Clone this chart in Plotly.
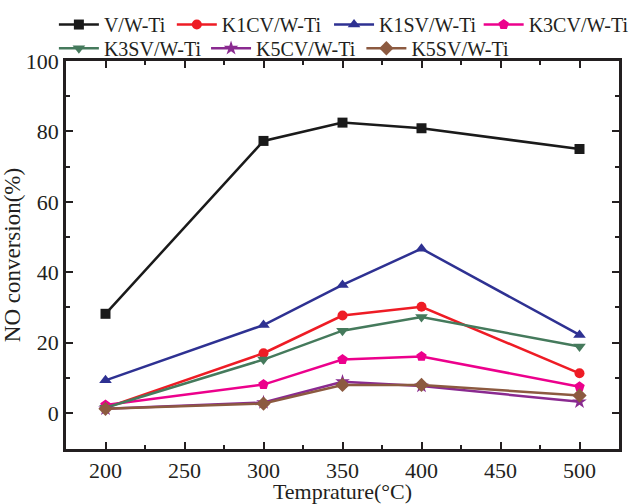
import plotly.graph_objects as go

temps = [200, 300, 350, 400, 500]
names = ["V/W-Ti", "K1CV/W-Ti", "K1SV/W-Ti", "K3CV/W-Ti", "K3SV/W-Ti", "K5CV/W-Ti", "K5SV/W-Ti"]
v_wti = [28.2, 77.3, 82.5, 80.9, 75.0]
k1cv = [1.5, 17.0, 27.7, 30.2, 11.3]
k1sv = [9.3, 25.0, 36.4, 46.7, 22.2]
k3cv = [2.3, 8.1, 15.2, 16.1, 7.5]
k3sv = [1.5, 15.2, 23.4, 27.3, 18.9]
k5cv = [1.2, 3.0, 8.9, 7.7, 3.2]
k5sv = [1.2, 2.7, 8.0, 8.0, 5.0]
series = [v_wti, k1cv, k1sv, k3cv, k3sv, k5cv, k5sv]
colors = ["#1a1a1a", "#ee1c25", "#2e3192", "#ec008c", "#457a5c", "#8a2a90", "#8c5a40"]
symbols = ["square", "circle", "triangle-up", "pentagon", "triangle-down", "star", "diamond"]
sizes = [10, 10, 11, 11, 11, 11, 11]
# legend entry placement (container fractions): one legend per entry
legend_x = [0.085, 0.271, 0.519, 0.755, 0.085, 0.325, 0.570]
legend_y = [0.99, 0.99, 0.99, 0.99, 0.943, 0.943, 0.943]

fig = go.Figure()
layout_legends = {}
for i, (n, s, c, m, sz) in enumerate(zip(names, series, colors, symbols, sizes)):
    lg = "legend" if i == 0 else f"legend{i + 1}"
    fig.add_trace(go.Scatter(x=temps, y=s, name=n, mode="lines+markers",
                             line=dict(color=c, width=2.5),
                             marker=dict(symbol=m, size=sz, color=c),
                             legend=lg))
    layout_legends[lg] = dict(orientation="h", xref="container", x=legend_x[i], xanchor="left",
                              yref="container", y=legend_y[i], yanchor="top",
                              font=dict(family="Liberation Serif", size=20, color="#231f20"),
                              itemwidth=40, tracegroupgap=0, bgcolor="rgba(0,0,0,0)")

axis_common = dict(showline=True, linecolor="#231f20", linewidth=2.5, mirror="allticks",
                   ticks="inside", ticklen=7, tickwidth=2, tickcolor="#231f20",
                   showgrid=False, zeroline=False,
                   tickfont=dict(family="Liberation Serif", size=22, color="#231f20"))
fig.update_layout(
    width=634, height=504,
    margin=dict(l=66, r=15, t=61, b=55, autoexpand=False),
    paper_bgcolor="white", plot_bgcolor="white",
    font=dict(family="Liberation Serif", color="#231f20"),
    xaxis=dict(range=[175, 525], tickvals=[200, 250, 300, 350, 400, 450, 500],
               minor=dict(ticks="inside", ticklen=4, tickwidth=1.5, tickcolor="#231f20", dtick=50, tick0=225),
               title=dict(text="Temprature(°C)", font=dict(size=22), standoff=8),
               **axis_common),
    yaxis=dict(range=[-10.2, 100], tickvals=[0, 20, 40, 60, 80, 100],
               minor=dict(ticks="inside", ticklen=4, tickwidth=1.5, tickcolor="#231f20", dtick=20, tick0=10),
               title=dict(text="NO conversion(%)", font=dict(size=23), standoff=6),
               **axis_common),
    showlegend=True,
    **layout_legends,
)
fig.write_html("out.html")
